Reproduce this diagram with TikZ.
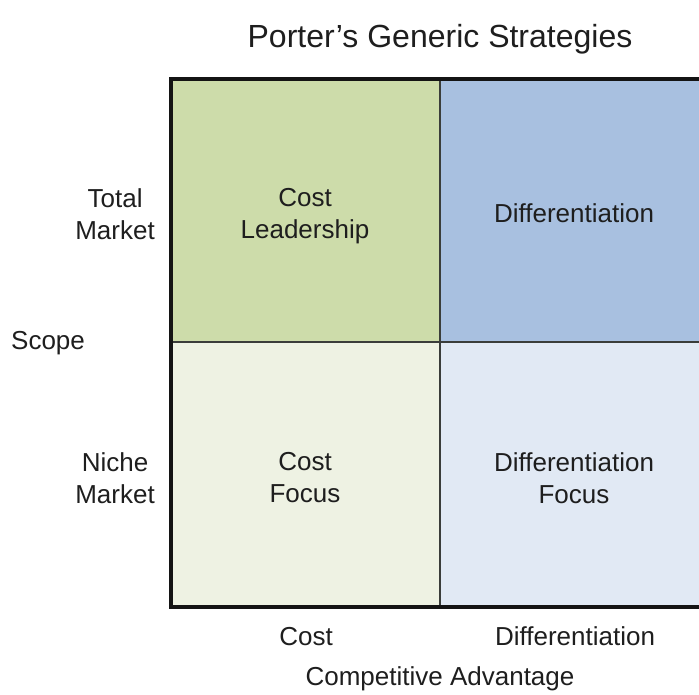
\documentclass[tikz,border=0pt]{standalone}
\usepackage{fontspec}
\setmainfont{Liberation Sans}
\usepackage{tikz}

\definecolor{leadgreen}{HTML}{CDDCAA}
\definecolor{diffblue}{HTML}{A8C0E0}
\definecolor{focusgreen}{HTML}{EEF2E3}
\definecolor{focusblue}{HTML}{E1E9F4}
\definecolor{gridline}{HTML}{3A3D3A}
\definecolor{txtgray}{HTML}{1E1E1E}

\tikzset{
	lbl/.style={font=\fontsize{26}{32}\selectfont, text=txtgray, inner sep=0pt, align=center},
	ttl/.style={font=\fontsize{32}{38}\selectfont, text=txtgray, inner sep=0pt},
	inner line/.style={draw=gridline, line width=1.6pt},
	outer line/.style={draw=black!92, line width=3.6pt}
}

\begin{document}
\begin{tikzpicture}[x=1pt, y=-1pt]
	\useasboundingbox (0,0) rectangle (699,694);
	\clip (0,0) rectangle (699,694);
	% grid corners
	\coordinate (nw) at (171,79);
	\coordinate (n) at (440,79);
	\coordinate (ne) at (712,79);
	\coordinate (w) at (171,342);
	\coordinate (c) at (440,342);
	\coordinate (e) at (712,342);
	\coordinate (sw) at (171,607);
	\coordinate (s) at (440,607);
	\coordinate (se) at (712,607);
	\fill[leadgreen] (nw) rectangle (c);
	\fill[diffblue] (n) rectangle (e);
	\fill[focusgreen] (w) rectangle (s);
	\fill[focusblue] (c) rectangle (se);
	\path[inner line] (n) -- (s) (w) -- (e);
	\path[outer line] (ne) -- (nw) -- (sw) -- (se);
	% title
	\node[ttl, anchor=base] (title) at (440,47) {Porter’s Generic Strategies};
	% cells
	\node[lbl] (costlead) at (305,216) {Cost\\Leadership};
	\node[lbl] (diff) at (574,213.5) {Differentiation};
	\node[lbl] (costfocus) at (305,478) {Cost\\Focus};
	\node[lbl] (difffocus) at (574,478) {Differentiation\\Focus};
	% scope axis
	\node[lbl, anchor=east] (total) at (155,214) {Total\\Market};
	\node[lbl, anchor=east] (niche) at (155,478) {Niche\\Market};
	\node[lbl, anchor=west] (scope) at (11,343) {Scope};
	% advantage axis
	\node[lbl, anchor=base] (cost) at (306,645) {Cost};
	\node[lbl, anchor=base] (differ) at (575,645) {Differentiation};
	\node[lbl, anchor=base] (advantage) at (440,685) {Competitive Advantage};
\end{tikzpicture}
\end{document}
